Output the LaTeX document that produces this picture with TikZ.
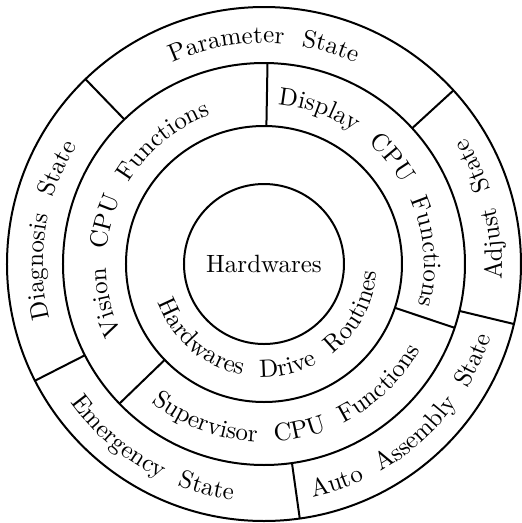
\documentclass[tikz,border=0pt]{standalone}
\usepackage{tikz}
\usetikzlibrary{decorations.text}
\newcommand{\wgap}{\kern7pt}
% text on an arc, read clockwise (tops of letters point outwards)
\newcommand{\cwlabel}[3]{%
  \path[decorate,decoration={text along path,text align=center,text={#3}}]
    (#1+100:#2) arc[start angle=#1+100,end angle=#1-100,radius=#2];}
% text on an arc, read counterclockwise (tops of letters point inwards)
\newcommand{\ccwlabel}[3]{%
  \path[decorate,decoration={text along path,text align=center,text={#3}}]
    (#1-100:#2) arc[start angle=#1-100,end angle=#1+100,radius=#2];}

\begin{document}
\begin{tikzpicture}[x=0.4pt,y=0.4pt]

    % `ring' is used for all circles and dividers.
    % `core' is the circle in the middle.
    \tikzstyle{ring} = [line width=0.8pt]
    \tikzstyle{core} = [ring,draw,circle,minimum size=64pt,inner sep=0pt]
    %
    \useasboundingbox (-264,-259) rectangle (258,264);
    \coordinate (ctr) at (0,0);

    % Circles.
    \draw[ring] (ctr) circle[radius=257];
    \draw[ring] (ctr) circle[radius=201];
    \draw[ring] (ctr) circle[radius=138];
    \node[core] (hw) at (ctr) {Hardwares};

    % Dividers of the outer ring and of the middle ring.
    \foreach \a in {134,42.5,-13.5,-82,207}
        \draw[ring] (\a:201) -- (\a:257);
    \foreach \a in {89,-18.5,224}
        \draw[ring] (\a:138) -- (\a:201);

    % Outer ring: states.
    \cwlabel{90}{221}{Parameter{\wgap}State}
    \ccwlabel{14}{238}{Adjust{\wgap}State}
    \ccwlabel{-48}{238}{Auto{\wgap}Assembly{\wgap}State}
    \ccwlabel{239}{238}{Emergency{\wgap}State}
    \cwlabel{171}{221}{Diagnosis{\wgap}State}

    % Middle ring: CPU functions.
    \cwlabel{158}{158}{Vision{\wgap}CPU{\wgap}Functions}
    \cwlabel{35}{160}{Display{\wgap}CPU{\wgap}Functions}
    \ccwlabel{281}{178}{Supervisor{\wgap}CPU{\wgap}Functions}

    % Inner ring.
    \ccwlabel{278}{113}{Hardwares{\wgap}Drive{\wgap}Routines}
    %
\end{tikzpicture}
\end{document}
